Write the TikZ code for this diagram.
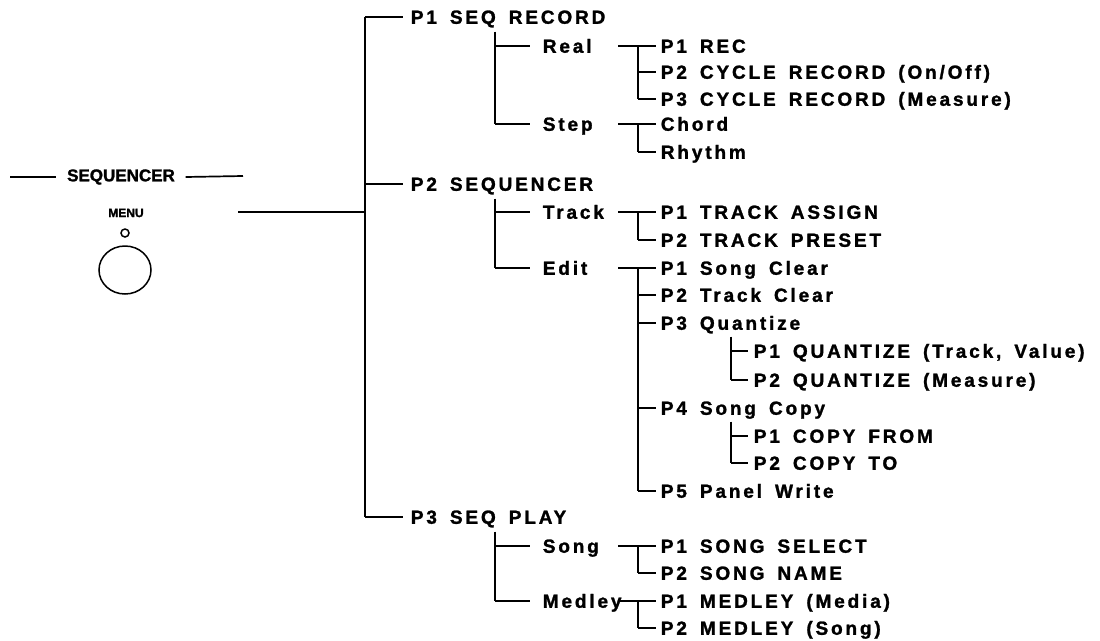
\documentclass[tikz,border=0pt]{standalone}
\usepackage{fontspec}
\setmainfont{Liberation Sans}[BoldFeatures={FakeBold=1.5}]
\newfontfamily\lblfont{Liberation Sans}[LetterSpace=15, WordSpace=1.6, BoldFeatures={FakeBold=1.4}]
\usetikzlibrary{calc,shapes.geometric}
\begin{document}
\begin{tikzpicture}[x=1pt,y=-1pt,
  line width=1.7pt,
  lbl/.style={font=\lblfont\bfseries\fontsize{19}{21}\selectfont, inner ysep=0pt,
    text height=13.5pt, text depth=0pt, anchor=west},
  lvA/.style={lbl, inner xsep=7pt},
  lvB/.style={lbl, inner xsep=12pt},
  lvC/.style={lbl, inner xsep=4pt},
  lvD/.style={lbl, inner xsep=5pt}]
\useasboundingbox[fill=white] (0,0) rectangle (1100,640);

% ---- left panel ----
\node[font=\bfseries\fontsize{17}{19}\selectfont, inner xsep=10pt, inner ysep=0pt] (seq) at (121,177) {SEQUENCER};
\coordinate (hl) at (10,177);
\coordinate (hr) at (243,176);
\draw (hl) -- (seq.west);
\draw (seq.east) -- (hr);
\node[font=\bfseries\fontsize{12}{14}\selectfont, inner sep=0pt] (menu) at (126,213) {MENU};
\node[draw, circle, minimum size=8pt, inner sep=0pt, line width=1.5pt] (led) at (125,233) {};
\node[draw, ellipse, minimum width=52pt, minimum height=48pt, inner sep=0pt, line width=1.5pt] (btn) at (125,270) {};

% ---- coordinates of the columns ----
\coordinate (T1) at (365,0);
\coordinate (V2) at (495,0);
\coordinate (X3) at (618,0);
\coordinate (V3) at (638,0);
\coordinate (V4) at (731,0);
\coordinate (ml) at (238,212);

% ---- level 1 ----
\node[lvA] (a1) at (403,17) {P1 SEQ RECORD};
\node[lvA] (a2) at (403,184) {P2 SEQUENCER};
\node[lvA] (a3) at (403,517) {P3 SEQ PLAY};

% ---- level 2 ----
\node[lvB] (b1) at (530,46) {Real};
\node[lvB] (b2) at (530,124) {Step};
\node[lvB] (b3) at (530,212) {Track};
\node[lvB] (b4) at (530,268) {Edit};
\node[lvB] (b5) at (530,546) {Song};
\node[lvB] (b6) at (530,601) {Medley};

% ---- level 3 ----
\node[lvC] (c1) at (656,46) {P1 REC};
\node[lvC] (c2) at (656,72) {P2 CYCLE RECORD (On/Off)};
\node[lvC] (c3) at (656,99) {P3 CYCLE RECORD (Measure)};
\node[lvC] (c4) at (656,124) {Chord};
\node[lvC] (c5) at (656,152) {Rhythm};
\node[lvC] (c6) at (656,212) {P1 TRACK ASSIGN};
\node[lvC] (c7) at (656,240) {P2 TRACK PRESET};
\node[lvC] (c8) at (656,268) {P1 Song Clear};
\node[lvC] (c9) at (656,295) {P2 Track Clear};
\node[lvC] (c10) at (656,323) {P3 Quantize};
\node[lvC] (c11) at (656,408) {P4 Song Copy};
\node[lvC] (c12) at (656,491) {P5 Panel Write};
\node[lvC] (c13) at (656,546) {P1 SONG SELECT};
\node[lvC] (c14) at (656,573) {P2 SONG NAME};
\node[lvC] (c15) at (656,601) {P1 MEDLEY (Media)};
\node[lvC] (c16) at (656,628) {P2 MEDLEY (Song)};

% ---- level 4 ----
\node[lvD] (d1) at (748,351) {P1 QUANTIZE (Track, Value)};
\node[lvD] (d2) at (748,380) {P2 QUANTIZE (Measure)};
\node[lvD] (d3) at (748,436) {P1 COPY FROM};
\node[lvD] (d4) at (748,463) {P2 COPY TO};

% ---- connectors: level 1 ----
\draw (ml) -- (ml -| T1);
\draw (T1 |- a1.west) -- (T1 |- a3.west);
\foreach \n in {a1,a2,a3} \draw (T1 |- \n.west) -- (\n.west);

% ---- connectors: level 2 ----
\draw ($(V2 |- a1.south)+(0,7)$) -- (V2 |- b2.west);
\draw ($(V2 |- a2.south)+(0,7)$) -- (V2 |- b4.west);
\draw ($(V2 |- a3.south)+(0,7)$) -- (V2 |- b6.west);
\foreach \n in {b1,b2,b3,b4,b5,b6} \draw (V2 |- \n.west) -- (\n.west);

% ---- connectors: level 3 (T junctions) ----
\foreach \p/\f/\l in {b1/c1/c3, b2/c4/c5, b3/c6/c7, b4/c8/c12, b5/c13/c14, b6/c15/c16}
  \draw (X3 |- \f.west) -- (\f.west) (V3 |- \f.west) -- (V3 |- \l.west);
\foreach \n in {c2,c3,c5,c7,c9,c10,c11,c12,c14,c16} \draw (V3 |- \n.west) -- (\n.west);

% ---- connectors: level 4 ----
\draw ($(V4 |- c10.south)+(0,6)$) -- (V4 |- d2.west);
\draw ($(V4 |- c11.south)+(0,6)$) -- (V4 |- d4.west);
\foreach \n in {d1,d2,d3,d4} \draw (V4 |- \n.west) -- (\n.west);
\end{tikzpicture}
\end{document}
